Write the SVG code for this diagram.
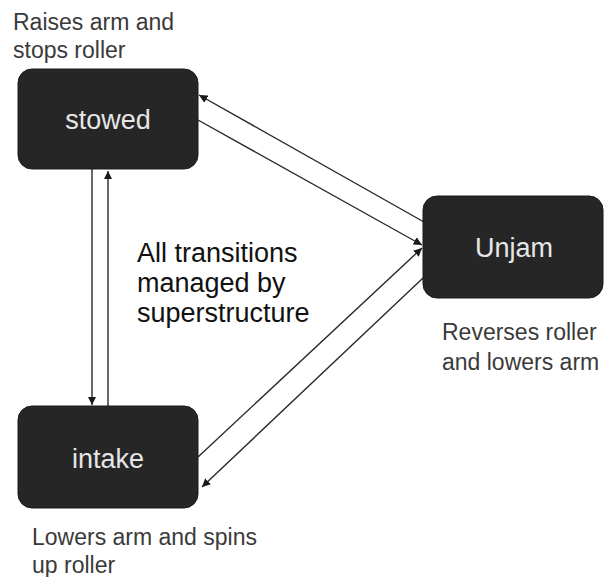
<svg xmlns="http://www.w3.org/2000/svg" width="605" height="577" viewBox="0 0 605 577">
<style>
.node{fill:#262626;stroke:#1a1a1a;stroke-width:1}
.nt{font-family:"Liberation Sans",Arial,sans-serif;font-size:27px;fill:#e6e6e6;text-anchor:middle}
.lbl{font-family:"Liberation Sans",Arial,sans-serif;font-size:23px;fill:#3a3a3a}
.mid{font-family:"Liberation Sans",Arial,sans-serif;font-size:27px;fill:#111}
.edge{stroke:#2a2a2a;stroke-width:1.4;fill:none;marker-end:url(#ah)}
.plain{stroke:#2a2a2a;stroke-width:1.4;fill:none}
</style>
<defs>
<marker id="ah" viewBox="0 0 10 10" refX="10" refY="5" markerWidth="6" markerHeight="6" markerUnits="strokeWidth" orient="auto">
<path d="M0,0 L10,5 L0,10 z" fill="#1a1a1a"/>
</marker>
</defs>
<rect width="605" height="577" fill="#ffffff"/>
<g id="connectors">
<line class="edge" x1="92" y1="169" x2="92" y2="405"/>
<line class="edge" x1="108" y1="406" x2="108" y2="171"/>
<line class="edge" x1="424" y1="222" x2="199" y2="95"/>
<line class="edge" x1="198" y1="120" x2="422" y2="245"/>
<line class="edge" x1="198" y1="457" x2="422" y2="248"/>
<line class="edge" x1="423" y1="278" x2="202" y2="487"/>
</g>
<g id="stowed">
<rect class="node" x="18" y="69" width="180" height="100" rx="14"/>
<text class="nt" x="108" y="129">stowed</text>
</g>
<g id="unjam">
<rect class="node" x="423" y="196" width="180" height="102" rx="14"/>
<text class="nt" x="514" y="257">Unjam</text>
</g>
<g id="intake">
<rect class="node" x="18" y="406" width="180" height="102" rx="14"/>
<text class="nt" x="108" y="468">intake</text>
</g>
<g id="labels">
<text class="lbl" x="13" y="30">Raises arm and</text>
<text class="lbl" x="13" y="58">stops roller</text>
<text class="lbl" x="442" y="340">Reverses roller</text>
<text class="lbl" x="442" y="370">and lowers arm</text>
<text class="lbl" x="32" y="545">Lowers arm and spins</text>
<text class="lbl" x="32" y="573">up roller</text>
<text class="mid" x="137" y="262">All transitions</text>
<text class="mid" x="137" y="292">managed by</text>
<text class="mid" x="137" y="322">superstructure</text>
</g>
</svg>
